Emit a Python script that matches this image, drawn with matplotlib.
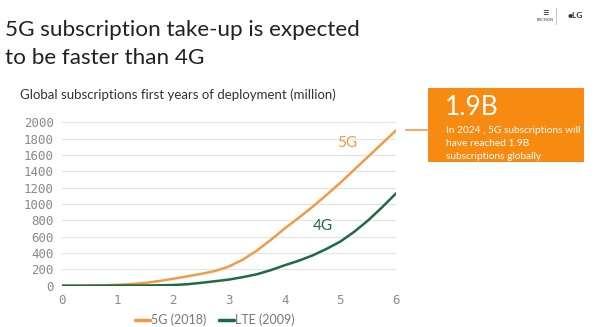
import matplotlib
matplotlib.use("Agg")
import matplotlib.pyplot as plt
from matplotlib.patches import Rectangle

years = [0, 0.25, 0.5, 0.75, 1, 1.25, 1.5, 1.75, 2, 2.25, 2.5, 2.75, 3,
         3.25, 3.5, 3.75, 4, 4.25, 4.5, 4.75, 5, 5.25, 5.5, 5.75, 6]
sub_5g = [0, 0, 2, 5, 10, 20, 35, 58, 85, 115, 145, 180, 235,
          320, 430, 560, 700, 830, 965, 1110, 1260, 1420, 1580, 1740, 1900]
sub_lte = [0, 0, 0, 1, 2, 2, 3, 5, 8, 18, 35, 55, 75,
           105, 140, 190, 250, 305, 370, 450, 540, 660, 800, 960, 1130]
yticks = [0, 200, 400, 600, 800, 1000, 1200, 1400, 1600, 1800, 2000]
xticks = [0, 1, 2, 3, 4, 5, 6]

ORANGE = "#F29B45"
GREEN = "#1B6B43"
BOX = "#F78B12"
GRAY = "#8A8A8A"

plt.rcParams['font.family'] = ['Lato', 'DejaVu Sans']

fig = plt.figure(figsize=(6.0, 3.27), dpi=100)
W, H = 600, 327

def fx(px):
    return px / W

def fy(py):
    return 1 - py / H

# Title
fig.text(fx(5), fy(36), "5G subscription take-up is expected", fontsize=16.2, color="#222222", va="baseline", ha="left")
fig.text(fx(5), fy(64), "to be faster than 4G", fontsize=16.2, color="#222222", va="baseline", ha="left")
fig.text(fx(20), fy(99), "Global subscriptions first years of deployment (million)", fontsize=9.5, color="#333333", va="baseline", ha="left")

# logos (approximate)
fig.text(fx(545), fy(20), "ERICSSON", fontsize=2.5, color="#333333", ha="center", va="center")
fig.text(fx(545), fy(13), "≡", fontsize=8, color="#222222", ha="center", va="center")
fig.add_artist(plt.Line2D([fx(556), fx(556)], [fy(8), fy(24)], color="#bbbbbb", lw=0.6))
fig.text(fx(575), fy(16), "●LG", fontsize=6, color="#333333", ha="center", va="center", fontweight="bold")

# axes
ax = fig.add_axes([fx(62), fy(285.7), fx(396) - fx(62), fy(122.3) - fy(285.7)])
ax.plot(years, sub_5g, color=ORANGE, lw=1.8, label="5G (2018)", solid_capstyle="round")
ax.plot(years, sub_lte, color=GREEN, lw=1.8, label="LTE (2009)", solid_capstyle="round")
ax.set_xlim(0, 6)
ax.set_ylim(0, 2000)
ax.set_yticks(yticks)
ax.set_xticks(xticks)
ax.grid(axis="y", color="#e3e3e3", lw=0.8)
ax.set_axisbelow(True)
for s in ax.spines.values():
    s.set_visible(False)
ax.tick_params(length=0, labelsize=9, labelcolor=GRAY, pad=6)
for lab in ax.get_yticklabels() + ax.get_xticklabels():
    lab.set_family(['DejaVu Sans Mono'])

ax.text(4.95, 1750, "5G", color=ORANGE, fontsize=11, ha="left", va="center")
ax.text(4.5, 730, "4G", color=GREEN, fontsize=11, ha="left", va="center")

leg = fig.legend(*ax.get_legend_handles_labels(), loc="center", bbox_to_anchor=(fx(215), fy(320)),
                 ncol=2, frameon=False, fontsize=9, handlelength=1.2, handletextpad=0.1,
                 columnspacing=1.0, borderpad=0, borderaxespad=0)
for t in leg.get_texts():
    t.set_color("#777777")
for l in leg.get_lines():
    l.set_linewidth(2.5)

# connector and callout
fig.add_artist(plt.Line2D([fx(406), fx(428)], [fy(129.5), fy(129.5)], color=ORANGE, lw=1.2))
fig.add_artist(Rectangle((fx(428), fy(162)), fx(584) - fx(428), fy(88) - fy(162),
                         transform=fig.transFigure, facecolor=BOX, edgecolor="none"))
fig.text(fx(445), fy(115), "1.9B", color="white", fontsize=19, va="baseline", ha="left")
fig.text(fx(446), fy(133), "In 2024 , 5G subscriptions will", color="white", fontsize=7.3, va="baseline")
fig.text(fx(446), fy(146), "have reached 1.9B", color="white", fontsize=7.3, va="baseline")
fig.text(fx(446), fy(159), "subscriptions globally", color="white", fontsize=7.3, va="baseline")

fig.savefig("out.png", dpi=100, facecolor="white")
